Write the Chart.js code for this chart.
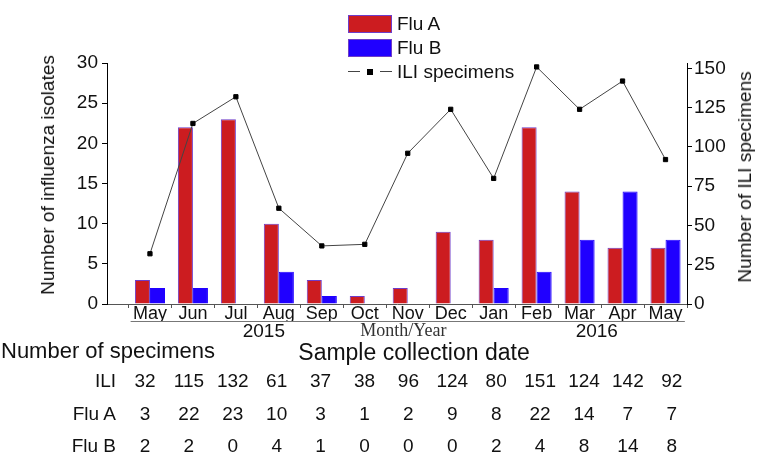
<!DOCTYPE html>
<html>
<head>
<meta charset="utf-8">
<script src="https://cdn.jsdelivr.net/npm/chart.js@4.4.0/dist/chart.umd.min.js"></script>
<style>
  html, body { margin: 0; padding: 0; background: #fff; }
  #wrap { position: relative; width: 757px; height: 455px; overflow: hidden;
          font-family: "Liberation Sans", Arial, sans-serif; color: #111; }
  #wrap canvas { position: absolute; left: 0; top: 0; }
  .vtitle { position: absolute; white-space: nowrap; font-size: 19px;
            transform: translate(-50%, -50%) rotate(-90deg); }
  .legend { position: absolute; left: 348px; top: 12px; font-size: 19px; }
  .legend .row { height: 24px; display: flex; align-items: center; }
  .legend .sw { width: 44px; height: 18px; margin-right: 5px; box-sizing: border-box; position: relative; }
  .txt { position: absolute; white-space: nowrap; }
  .cell { position: absolute; white-space: nowrap; font-size: 19px; transform: translate(-50%, -50%); }
  .rlab { position: absolute; white-space: nowrap; font-size: 19px; transform: translate(-100%, -50%); }
</style>
</head>
<body>
<div id="wrap">
  <canvas id="grafico" width="757" height="455"></canvas>
  <div class="legend" id="legenda"></div>
  <div class="vtitle" style="left:48px; top:175px;">Number of influenza isolates</div>
  <div class="vtitle" style="left:745px; top:177px;">Number of ILI specimens</div>
  <div class="txt" style="left:1px; top:338px; font-size:22px;">Number of specimens</div>
  <div class="txt" style="left:414px; top:339px; font-size:23px; transform:translateX(-50%);">Sample collection date</div>
  <div id="tabela"></div>
</div>
<script>
// dados
const meses = ['May', 'Jun', 'Jul', 'Aug', 'Sep', 'Oct', 'Nov', 'Dec', 'Jan', 'Feb', 'Mar', 'Apr', 'May'];
const fluA = [3, 22, 23, 10, 3, 1, 2, 9, 8, 22, 14, 7, 7];
const fluB = [2, 2, 0, 4, 1, 0, 0, 0, 2, 4, 8, 14, 8];
const ili = [32, 115, 132, 61, 37, 38, 96, 124, 80, 151, 124, 142, 92];
const anos = ['2015', 'Month/Year', '2016'];
const anosPos = [2.65, 5.9, 10.4]; // onde cada rotulo fica no eixo x

const fonte = '"Liberation Sans", Arial, sans-serif';
const vermelho = 'rgb(204,28,32)';
const azul = 'rgb(32,0,255)';

const pontos = arr => arr.map((v, i) => ({ x: i, y: v }));
const valorTick = ctx => (ctx && ctx.tick) ? ctx.tick.value : null;
const ehSerif = ctx => anos[anosPos.indexOf(valorTick(ctx))] === 'Month/Year';

// linha cinza embaixo dos meses (separa os anos)
const linhaAnos = {
  id: 'linhaAnos',
  afterDraw(chart) {
    const sx = chart.scales.x;
    const sa = chart.scales.xAno;
    const ctx = chart.ctx;
    ctx.save();
    ctx.strokeStyle = '#777';
    ctx.lineWidth = 1;
    ctx.beginPath();
    ctx.moveTo(sx.getPixelForValue(-0.45), sa.top + 0.5);
    ctx.lineTo(sx.getPixelForValue(meses.length - 0.55), sa.top + 0.5);
    ctx.stroke();
    ctx.restore();
  }
};

// os ticks do eixo x ficam a cada meio mes, por isso o categoryPercentage dobra (0.7 * 2)
const grafico = new Chart(document.getElementById('grafico'), {
  type: 'bar',
  data: {
    datasets: [
      {
        type: 'line',
        label: 'ILI specimens',
        data: pontos(ili),
        yAxisID: 'y1',
        borderColor: '#444',
        borderWidth: 1,
        pointStyle: 'rect',
        pointRadius: 3,
        pointBorderWidth: 1,
        pointBackgroundColor: '#000',
        pointBorderColor: '#000',
        order: 0
      },
      {
        label: 'Flu A',
        data: pontos(fluA),
        yAxisID: 'y',
        backgroundColor: vermelho,
        borderColor: 'rgb(110,60,200)',
        borderWidth: 1,
        categoryPercentage: 1.4,
        barPercentage: 1,
        order: 1
      },
      {
        label: 'Flu B',
        data: pontos(fluB),
        yAxisID: 'y',
        backgroundColor: azul,
        borderColor: azul,
        borderWidth: 1,
        categoryPercentage: 1.4,
        barPercentage: 1,
        order: 1
      }
    ]
  },
  options: {
    responsive: false,
    animation: false,
    layout: { padding: { top: 63, bottom: 110, left: 0, right: 0 } },
    plugins: { legend: { display: false }, tooltip: { enabled: false } },
    scales: {
      x: {
        type: 'linear',
        position: 'bottom',
        min: -1,
        max: meses.length - 0.5,
        offset: false,
        afterBuildTicks(scale) {
          const t = [];
          meses.forEach((m, i) => { t.push({ value: i - 0.5 }); t.push({ value: i }); });
          t.push({ value: meses.length - 0.5 });
          scale.ticks = t;
        },
        afterFit(scale) { scale.height = 17; },
        ticks: {
          autoSkip: false,
          maxRotation: 0,
          padding: -5,
          color: '#111',
          font: { family: fonte, size: 18 },
          callback: v => Number.isInteger(v) ? meses[v] : ''
        },
        grid: {
          offset: false,
          drawOnChartArea: false,
          tickLength: 4,
          tickColor: ctx => Number.isInteger(valorTick(ctx)) ? 'rgba(0,0,0,0)' : '#555'
        },
        border: { color: '#555', width: 1 }
      },
      xAno: {
        type: 'linear',
        position: 'bottom',
        min: -1,
        max: meses.length - 0.5,
        offset: false,
        afterBuildTicks(scale) { scale.ticks = anosPos.map(v => ({ value: v })); },
        afterFit(scale) { scale.height = 24; },
        ticks: {
          autoSkip: false,
          maxRotation: 0,
          padding: -1,
          color: ctx => ehSerif(ctx) ? '#333' : '#111',
          font: ctx => ehSerif(ctx)
            ? { family: '"Liberation Serif", "Times New Roman", serif', size: 18 }
            : { family: fonte, size: 19 },
          callback: v => anos[anosPos.indexOf(v)]
        },
        grid: { display: false, drawTicks: false, tickLength: 0, offset: false },
        border: { display: false }
      },
      y: {
        position: 'left',
        min: 0,
        max: 30,
        afterFit(scale) { scale.width = 107; },
        ticks: {
          stepSize: 2.5,
          padding: 4,
          color: '#111',
          font: { family: fonte, size: 19 },
          callback: v => v % 5 === 0 ? v : ''
        },
        grid: { drawOnChartArea: false, tickLength: 5, tickColor: '#000' },
        border: { color: '#000', width: 1 }
      },
      y1: {
        position: 'right',
        min: 0,
        max: 153.5,
        afterBuildTicks(scale) {
          const t = [];
          for (let v = 0; v <= 150; v += 12.5) t.push({ value: v });
          scale.ticks = t;
        },
        afterFit(scale) { scale.width = 70; },
        ticks: {
          padding: 2,
          color: '#111',
          font: { family: fonte, size: 19 },
          callback: v => v % 25 === 0 ? v : ''
        },
        grid: { drawOnChartArea: false, tickLength: 5, tickColor: '#000' },
        border: { color: '#000', width: 1 }
      }
    }
  },
  plugins: [linhaAnos]
});

// legenda feita em html com as cores dos datasets
const legenda = document.getElementById('legenda');
const ordemLegenda = [1, 2, 0];
ordemLegenda.forEach(idx => {
  const ds = grafico.data.datasets[idx];
  const row = document.createElement('div');
  row.className = 'row';
  const sw = document.createElement('div');
  sw.className = 'sw';
  if (ds.type === 'line') {
    sw.innerHTML =
      '<div style="position:absolute;left:0;top:8px;width:12px;border-top:1px solid ' + ds.borderColor + '"></div>' +
      '<div style="position:absolute;left:19px;top:6px;width:6px;height:6px;background:' + ds.pointBackgroundColor + '"></div>' +
      '<div style="position:absolute;left:32px;top:8px;width:12px;border-top:1px solid ' + ds.borderColor + '"></div>';
  } else {
    sw.style.background = ds.backgroundColor;
    sw.style.border = '1px solid rgb(110,60,200)';
  }
  row.appendChild(sw);
  const t = document.createElement('span');
  t.textContent = ds.label;
  row.appendChild(t);
  legenda.appendChild(row);
});

// tabela com o numero de amostras
const tabela = document.getElementById('tabela');
const linhas = [['ILI', ili], ['Flu A', fluA], ['Flu B', fluB]];
const linhaY = [381, 414, 446];
linhas.forEach(([nome, valores], r) => {
  const lab = document.createElement('div');
  lab.className = 'rlab';
  lab.style.left = '116px';
  lab.style.top = linhaY[r] + 'px';
  lab.textContent = nome;
  tabela.appendChild(lab);
  valores.forEach((v, i) => {
    const c = document.createElement('div');
    c.className = 'cell';
    c.style.left = (145 + 43.9 * i) + 'px';
    c.style.top = linhaY[r] + 'px';
    c.textContent = v;
    tabela.appendChild(c);
  });
});
</script>
</body>
</html>
